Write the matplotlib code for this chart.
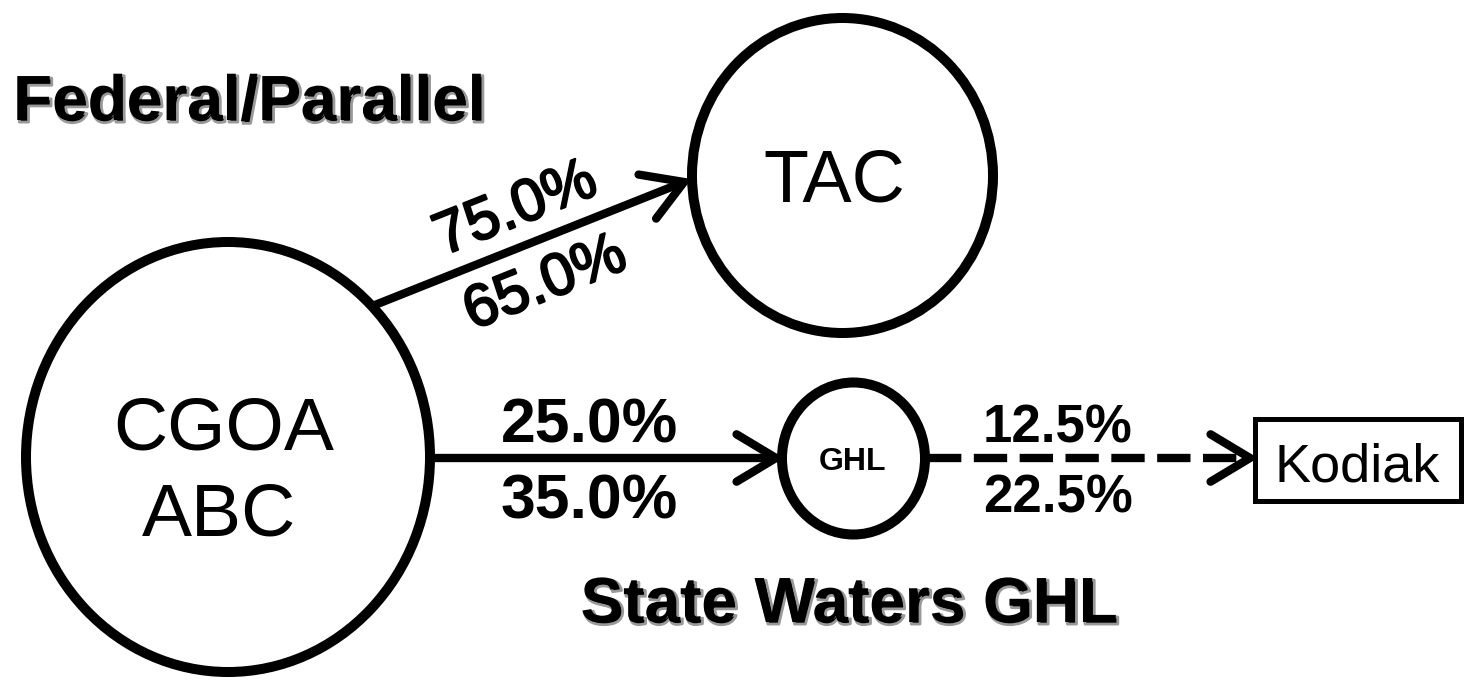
import matplotlib.pyplot as plt
import matplotlib.patheffects as pe
import numpy as np
from matplotlib.patches import Ellipse, Rectangle

plt.rcParams['font.family'] = ['Liberation Sans', 'DejaVu Sans']

# chart content
node_labels = ["CGOA\nABC", "TAC", "GHL", "Kodiak"]
federal_pct = [75.0, 65.0]     # CGOA -> TAC (upper, lower)
state_pct = [25.0, 35.0]       # CGOA -> GHL (upper, lower)
kodiak_pct = [12.5, 22.5]      # GHL -> Kodiak (upper, lower)
group_titles = ["Federal/Parallel", "State Waters GHL"]

W, H = 1467, 681


def pct(v):
    return f"{v:.1f}%"


def ellipse_exit(center, a, b, tip, angle):
    # walk back from the tip along the given angle until we hit the ellipse edge
    c, t = np.asarray(center, float), np.asarray(tip, float)
    d = np.array([np.cos(np.radians(angle)), -np.sin(np.radians(angle))])
    v = (t - c) / [a, b]
    e = d / [a, b]
    A, B, C = e.dot(e), -2 * v.dot(e), v.dot(v) - 1
    s = (-B - np.sqrt(B * B - 4 * A * C)) / (2 * A)
    return t - s * d


def draw_arrow(ax, p0, p1, lw=6, dashed=False, head=46, spread=31):
    p0, p1 = np.asarray(p0, float), np.asarray(p1, float)
    d = (p1 - p0) / np.linalg.norm(p1 - p0)
    end = p1 - d * 6
    if dashed:
        ax.plot([p0[0], end[0]], [p0[1], end[1]], color='black', lw=lw,
                dashes=(4, 1.5), dash_capstyle='butt')
    else:
        ax.plot([p0[0], end[0]], [p0[1], end[1]], color='black', lw=lw,
                solid_capstyle='butt')
    # open chevron head
    back = -d
    arms = []
    for s in (spread, -spread):
        a = np.radians(s)
        r = np.array([back[0] * np.cos(a) - back[1] * np.sin(a),
                      back[0] * np.sin(a) + back[1] * np.cos(a)])
        arms.append(p1 + r * head)
    ax.plot([arms[0][0], p1[0], arms[1][0]], [arms[0][1], p1[1], arms[1][1]],
            color='black', lw=lw, solid_joinstyle='miter', solid_capstyle='round')


def flow_labels(ax, p0, p1, top, bottom, off=(40, 40), shift=0.0, size=40,
                weight='bold', effects=None):
    p0, p1 = np.asarray(p0, float), np.asarray(p1, float)
    d = (p1 - p0) / np.linalg.norm(p1 - p0)
    n = np.array([d[1], -d[0]])  # points "up" on screen (y axis inverted)
    mid = (p0 + p1) / 2 + d * shift
    ang = np.degrees(np.arctan2(-d[1], d[0]))
    cap = 0.716 * size * 100 / 72
    for txt, o in ((top, off[0]), (bottom, -off[1])):
        base = mid + n * o - n * cap / 2
        ax.text(base[0], base[1], txt, rotation=ang, rotation_mode='anchor',
                ha='center', va='baseline', fontsize=size, fontweight=weight,
                path_effects=effects)


fig = plt.figure(figsize=(W / 100, H / 100), dpi=100)
ax = fig.add_axes([0, 0, 1, 1])
ax.set_xlim(0, W)
ax.set_ylim(H, 0)
ax.axis('off')

# nodes
cgoa_c, cgoa_a, cgoa_b = (228, 457), 202, 215
ax.add_patch(Ellipse(cgoa_c, 2 * cgoa_a, 2 * cgoa_b, fill=False, lw=7.2, ec='black'))
ax.add_patch(Ellipse((842.5, 175.5), 301, 315, fill=False, lw=7.2, ec='black'))
ax.add_patch(Ellipse((853.5, 458.5), 143, 152, fill=False, lw=7.2, ec='black'))
ax.add_patch(Rectangle((1254.5, 418.5), 206, 82, fill=False, lw=3.6, ec='black'))

cgoa, abc = node_labels[0].split("\n")
ax.text(224, 450, cgoa, ha='center', va='baseline', fontsize=54)
ax.text(219, 535, abc, ha='center', va='baseline', fontsize=54)
ax.text(834, 202, node_labels[1], ha='center', va='baseline', fontsize=53)
ax.text(853, 470, node_labels[2], ha='center', va='baseline', fontsize=23, fontweight='bold')
ax.text(1357, 482, node_labels[3], ha='center', va='baseline', fontsize=39)

# flows
tip1 = (684, 182)
a1 = (ellipse_exit(cgoa_c, cgoa_a + 3, cgoa_b + 3, tip1, 21.7), tip1)
a2 = ((cgoa_c[0] + cgoa_a + 3, 458), (776, 458))
a3 = ((928, 458), (1250, 458))
draw_arrow(ax, *a1)
draw_arrow(ax, *a2)
draw_arrow(ax, *a3, dashed=True)

medium = [pe.withStroke(linewidth=1.6, foreground='black')]
flow_labels(ax, *a1, pct(federal_pct[0]), pct(federal_pct[1]), off=(42, 38), shift=0,
            size=43, weight='normal', effects=medium)
flow_labels(ax, *a2, pct(state_pct[0]), pct(state_pct[1]), off=(38, 38.5), shift=-15,
            size=45)
flow_labels(ax, *a3, pct(kodiak_pct[0]), pct(kodiak_pct[1]), off=(34.5, 36), shift=-31,
            size=38)

# group titles (scanned look: faint grey offset halo)
halo = [pe.Stroke(offset=(1.5, -1.5), linewidth=2.0, foreground='0.6'), pe.Normal()]
ax.text(13, 120, group_titles[0], ha='left', va='baseline', fontsize=46,
        fontweight='bold', path_effects=halo)
ax.text(849, 622, group_titles[1], ha='center', va='baseline', fontsize=46,
        fontweight='bold', path_effects=halo)

fig.savefig("out.png", dpi=100, facecolor='white')
